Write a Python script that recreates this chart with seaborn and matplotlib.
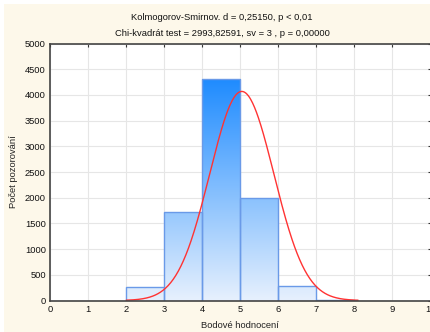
import numpy as np
import matplotlib
matplotlib.use("Agg")
import matplotlib.pyplot as plt
from matplotlib.colors import LinearSegmentedColormap
from matplotlib.patches import Rectangle
import seaborn as sns

# data
bin_edges = [2, 3, 4, 5, 6, 7, 8]
counts = [260, 1720, 4310, 2000, 280, 15]
fit_mean = 5.04
fit_sd = 0.842
title_lines = ["Kolmogorov-Smirnov. d = 0,25150, p < 0,01",
               "Chi-kvadrát test = 2993,82591, sv = 3 , p = 0,00000"]
xlabel = "Bodové hodnocení"
ylabel = "Počet pozorování"
xticks = list(range(0, 11))
yticks = list(range(0, 5001, 500))

sns.set_theme(style="white")
plt.rcParams['font.family'] = ['Liberation Sans', 'DejaVu Sans']

W, H = 430, 332
fs = 6.75
fig = plt.figure(figsize=(W / 100, H / 100), dpi=100)
fig.patch.set_facecolor("white")
# cream panel
fig.patches.append(Rectangle((4 / W, 0), 1, 1 - 4 / H, transform=fig.transFigure,
                             facecolor="#fdf8ea", edgecolor="none", zorder=-10))

ax = fig.add_axes([50 / W, (H - 300.5) / H, 380.5 / W, 257 / H])
ax.set_facecolor("white")

centers = [(bin_edges[i] + bin_edges[i + 1]) / 2 for i in range(len(counts))]
sns.histplot(x=centers, weights=counts, bins=bin_edges, ax=ax,
             stat="count", element="bars", fill=True,
             color="#1e8bff", edgecolor="#6a9ae8", linewidth=1.0, alpha=1)

cmap = LinearSegmentedColormap.from_list("g", ["#e6f0fd", "#1e8bff"])
grad = np.linspace(0, 1, 256).reshape(-1, 1)
ymax_g = max(counts)
for p in ax.patches:
    x0 = p.get_x()
    w = p.get_width()
    p.set_facecolor("none")
    p.set_zorder(3)
    im = ax.imshow(grad, cmap=cmap, origin="lower", aspect="auto",
                   extent=(x0, x0 + w, 0, ymax_g), zorder=2, interpolation="bilinear")
    im.set_clip_path(p)

# fitted normal curve
n_total = sum(counts)
binw = bin_edges[1] - bin_edges[0]
xs = np.linspace(0, 10, 600)
ys = n_total * binw / (fit_sd * np.sqrt(2 * np.pi)) * np.exp(-0.5 * ((xs - fit_mean) / fit_sd) ** 2)
mask = (xs >= 2.0) & (xs <= 8.1)
sns.lineplot(x=xs[mask], y=ys[mask], ax=ax, color="#ff3333", linewidth=1.0, zorder=4)

ax.set_xlim(0, 10)
ax.set_ylim(0, 5000)
ax.set_xticks(xticks)
ax.set_yticks(yticks)
ax.grid(True, color="#e6e6e6", linewidth=0.8, zorder=0)
ax.set_axisbelow(True)
ax.tick_params(direction="in", length=2.5, width=0.8, color="#333333",
               labelsize=fs, top=True, right=True, pad=3, labelcolor="#111111")
for s in ax.spines.values():
    s.set_visible(True)
    s.set_color("#444444")
    s.set_linewidth(1.2)
    s.set_zorder(5)

ax.set_xlabel(xlabel, fontsize=fs, color="#222222", labelpad=5)
ax.set_ylabel(ylabel, fontsize=fs, color="#222222", labelpad=5)

fig.text(222 / W, 1 - 18 / H, title_lines[0], ha="center", va="center", fontsize=fs, color="#111111")
fig.text(222 / W, 1 - 33 / H, title_lines[1], ha="center", va="center", fontsize=fs, color="#111111")

fig.savefig("out.png", dpi=100, facecolor=fig.get_facecolor())
